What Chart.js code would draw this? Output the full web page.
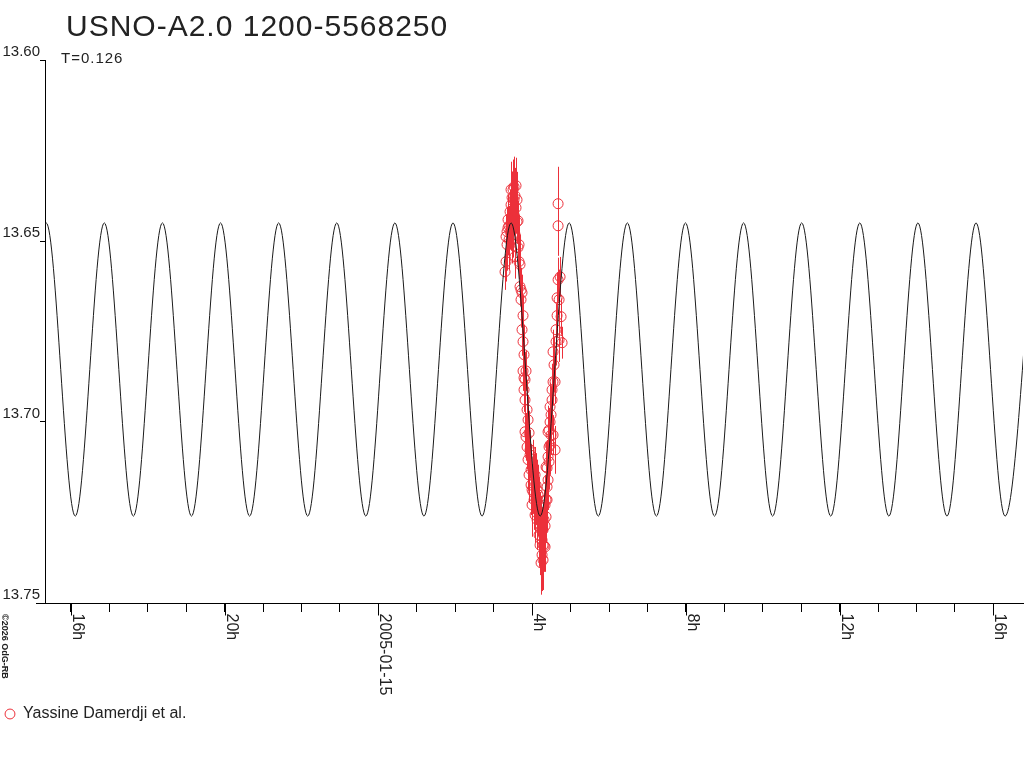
<!DOCTYPE html>
<html>
<head>
<meta charset="utf-8">
<title>USNO-A2.0 1200-5568250</title>
<script src="https://cdn.jsdelivr.net/npm/chart.js@4"></script>
<style>
  html, body { margin: 0; padding: 0; background: #fff; }
  canvas { display: block; }
</style>
</head>
<body>
<canvas id="chart" width="1024" height="768"></canvas>
<script>
// hours relative to 2005-01-15 00:00
const titleText = 'USNO-A2.0 1200-5568250';
const subtitleText = 'T=0.126';
const seriesLabel = 'Yassine Damerdji et al.';
const copyrightText = '\u00a92026 OdG-RB';

// model light curve: extrema (double wave, P = 0.126 d)
const modelTimes = [-9.400, -8.644, -7.888, -7.132, -6.376, -5.620, -4.864, -4.108, -3.352, -2.596,
  -1.840, -1.084, -0.328, 0.428, 1.184, 1.940, 2.696, 3.452, 4.208, 4.964, 5.720, 6.476, 7.232,
  7.988, 8.744, 9.500, 10.256, 11.012, 11.768, 12.524, 13.280, 14.036, 14.792, 15.548, 16.304, 17.060];
const modelMags = [13.726, 13.645, 13.726, 13.645, 13.726, 13.645, 13.726, 13.645, 13.726, 13.645,
  13.726, 13.645, 13.726, 13.645, 13.726, 13.645, 13.726, 13.645, 13.726, 13.645, 13.726, 13.645, 13.726,
  13.645, 13.726, 13.645, 13.726, 13.645, 13.726, 13.645, 13.726, 13.645, 13.726, 13.645, 13.726, 13.645];

// observations
const dataTimes = [3.294, 3.320, 3.320, 3.346, 3.372, 3.398, 3.424, 3.424, 3.450, 3.450,
  3.476, 3.476, 3.502, 3.502, 3.528, 3.528, 3.554, 3.554, 3.580, 3.580,
  3.606, 3.632, 3.632, 3.658, 3.684, 3.710, 3.736, 3.762, 3.762, 3.762,
  3.788, 3.788, 3.814, 3.840, 3.814, 3.840, 3.867, 3.893, 3.919, 3.945,
  3.945, 3.971, 3.997, 4.023, 4.049, 4.075, 4.101, 4.127, 4.153, 4.179,
  4.205, 4.231, 4.257, 4.283, 4.283, 4.309, 4.335, 4.335, 4.361, 4.361,
  4.361, 4.387, 4.387, 4.413, 4.413, 4.439, 4.465, 4.465, 4.491, 4.517,
  4.543, 4.543, 4.595, 4.595, 4.621, 4.648, 4.648, 4.674, 4.674, 4.674,
  4.700, 4.726, 4.752, 4.778, 4.543, 4.439,
  3.346, 3.372, 3.398, 3.450, 3.476, 3.502, 3.528, 3.554, 3.606, 3.658,
  3.684, 3.710, 3.736, 3.788, 3.814, 3.867, 3.893, 3.919, 3.971, 3.997,
  4.023, 4.049, 4.075, 4.101, 4.127, 4.153, 4.179, 4.205, 4.231, 4.257,
  4.283, 4.309, 4.335, 4.387, 4.413, 4.439, 4.465, 4.491, 4.517, 4.569,
  4.621, 4.700];
const dataMags = [13.6585, 13.6557, 13.6488, 13.6474, 13.6441, 13.6458, 13.6419, 13.6474, 13.6400, 13.6358,
  13.6435, 13.6380, 13.6408, 13.6358, 13.6350, 13.6427, 13.6375, 13.6543, 13.6408, 13.6347,
  13.6447, 13.6444, 13.6518, 13.6557, 13.6626, 13.6635, 13.6643, 13.6706, 13.6778, 13.6859,
  13.6911, 13.6878, 13.6939, 13.6859, 13.7027, 13.7041, 13.7069, 13.6994, 13.7030, 13.7091,
  13.7077, 13.7132, 13.7187, 13.7193, 13.7160, 13.7146, 13.7215, 13.7187, 13.7243, 13.7229,
  13.7270, 13.7389, 13.7326, 13.7381, 13.7298, 13.7342, 13.7345, 13.7287, 13.7262, 13.7215,
  13.7124, 13.7179, 13.7127, 13.7096, 13.7027, 13.7069, 13.7000, 13.6958, 13.7036, 13.6911,
  13.6889, 13.6806, 13.6889, 13.7077, 13.6778, 13.6706, 13.6657, 13.6607, 13.6458, 13.6397,
  13.6773, 13.6599, 13.6709, 13.6781, 13.7036, 13.7022,
  13.6510, 13.6463, 13.6496, 13.6455, 13.6496, 13.6463, 13.6386, 13.6482, 13.6386, 13.6510,
  13.6565, 13.6662, 13.6745, 13.6814, 13.6883, 13.6966, 13.7104, 13.7146, 13.7174, 13.7229,
  13.7132, 13.7215, 13.7257, 13.7174, 13.7270, 13.7201, 13.7312, 13.7340, 13.7298, 13.7367,
  13.7340, 13.7270, 13.7229, 13.7215, 13.7160, 13.7110, 13.7063, 13.6980, 13.6939, 13.6842,
  13.6745, 13.6662];
const dataErrs = [0.0050, 0.0055, 0.0061, 0.0066, 0.0069, 0.0055, 0.0061, 0.0050, 0.0069, 0.0077,
  0.0061, 0.0072, 0.0066, 0.0083, 0.0083, 0.0055, 0.0077, 0.0061, 0.0072, 0.0077,
  0.0061, 0.0055, 0.0061, 0.0050, 0.0055, 0.0061, 0.0050, 0.0055, 0.0061, 0.0055,
  0.0061, 0.0069, 0.0055, 0.0055, 0.0061, 0.0066, 0.0061, 0.0069, 0.0061, 0.0066,
  0.0055, 0.0069, 0.0072, 0.0061, 0.0072, 0.0077, 0.0069, 0.0083, 0.0072, 0.0077,
  0.0077, 0.0088, 0.0083, 0.0083, 0.0072, 0.0072, 0.0069, 0.0066, 0.0072, 0.0077,
  0.0069, 0.0066, 0.0077, 0.0066, 0.0072, 0.0061, 0.0069, 0.0066, 0.0055, 0.0072,
  0.0066, 0.0061, 0.0061, 0.0066, 0.0066, 0.0061, 0.0069, 0.0061, 0.0083, 0.0102,
  0.0061, 0.0055, 0.0050, 0.0044, 0.0055, 0.0061,
  0.0072, 0.0077, 0.0083, 0.0072, 0.0066, 0.0083, 0.0088, 0.0072, 0.0077, 0.0083,
  0.0083, 0.0077, 0.0072, 0.0083, 0.0077, 0.0083, 0.0083, 0.0077, 0.0083, 0.0088,
  0.0083, 0.0083, 0.0077, 0.0088, 0.0083, 0.0083, 0.0088, 0.0083, 0.0094, 0.0100,
  0.0088, 0.0083, 0.0083, 0.0088, 0.0083, 0.0077, 0.0083, 0.0077, 0.0083, 0.0077,
  0.0072, 0.0083];

const FONT = "'Liberation Sans', Arial, Helvetica, sans-serif";
const RED = 'rgb(236, 48, 58)';

function hourLabel(v) {
  if (v === 0) return '2005-01-15';
  return ((v + 24) % 24) + 'h';
}

// error bars, rotated time labels, title and the small notes
const decorations = {
  id: 'decorations',
  beforeDatasetsDraw(chart) {
    const {ctx, chartArea, scales: {x, y}} = chart;
    ctx.save();
    ctx.beginPath();
    ctx.rect(chartArea.left, chartArea.top, chartArea.right - chartArea.left, chartArea.bottom - chartArea.top);
    ctx.clip();
    ctx.strokeStyle = RED;
    ctx.lineWidth = 1;
    ctx.beginPath();
    dataTimes.forEach((t, i) => {
      const px = Math.round(x.getPixelForValue(t)) + 0.5;
      ctx.moveTo(px, y.getPixelForValue(dataMags[i] - dataErrs[i]));
      ctx.lineTo(px, y.getPixelForValue(dataMags[i] + dataErrs[i]));
    });
    ctx.stroke();
    ctx.restore();
  },
  afterDraw(chart) {
    const {ctx, chartArea, scales: {x}} = chart;
    const by = Math.round(chartArea.bottom) + 0.5;
    ctx.save();
    ctx.strokeStyle = '#000';
    ctx.fillStyle = '#222';
    ctx.lineWidth = 1;

    // axis line runs a little past the y axis
    ctx.beginPath();
    ctx.moveTo(36, by);
    ctx.lineTo(chartArea.left, by);
    ctx.stroke();

    // longer ticks + labels every 4 hours
    ctx.font = '16px ' + FONT;
    ctx.textAlign = 'left';
    ctx.textBaseline = 'alphabetic';
    x.ticks.forEach(tk => {
      if (Math.round(tk.value) % 4 !== 0) return;
      const px = Math.round(x.getPixelForValue(tk.value)) + 0.5;
      ctx.beginPath();
      ctx.moveTo(px, by);
      ctx.lineTo(px, by + 12);
      ctx.stroke();
      ctx.save();
      ctx.translate(px + 1, by + 10);
      ctx.rotate(Math.PI / 2);
      ctx.fillText(hourLabel(Math.round(tk.value)), 0, 0);
      ctx.restore();
    });

    // title and period
    ctx.letterSpacing = '1px';
    ctx.font = '30px ' + FONT;
    ctx.fillText(titleText, 66, 36);
    ctx.font = '15px ' + FONT;
    ctx.fillText(subtitleText, 61, 63);
    ctx.letterSpacing = '0px';

    // copyright, written downwards
    ctx.font = 'bold 9px ' + FONT;
    ctx.save();
    ctx.translate(2, 614);
    ctx.rotate(Math.PI / 2);
    ctx.fillText(copyrightText, 0, 0);
    ctx.restore();

    ctx.restore();
  }
};

Chart.defaults.font.family = FONT;
Chart.defaults.color = '#222';

new Chart(document.getElementById('chart'), {
  data: {
    datasets: [
      {
        type: 'line',
        label: 'model',
        data: modelTimes.map((t, i) => ({x: t, y: modelMags[i]})),
        borderColor: '#1a1a1a',
        borderWidth: 1,
        pointRadius: 0,
        fill: false,
        cubicInterpolationMode: 'monotone'
      },
      {
        type: 'scatter',
        label: seriesLabel,
        data: dataTimes.map((t, i) => ({x: t, y: dataMags[i]})),
        borderColor: RED,
        backgroundColor: 'rgba(0,0,0,0)',
        borderWidth: 1,
        pointStyle: 'circle',
        pointRadius: 5,
        pointHoverRadius: 5
      }
    ]
  },
  options: {
    responsive: false,
    devicePixelRatio: 1,
    animation: false,
    events: [],
    layout: {autoPadding: false, padding: {top: 60, right: 1, bottom: 36, left: 0}},
    scales: {
      x: {
        type: 'linear',
        min: -8.675,
        max: 16.77,
        afterFit: s => { s.height = 98; s.paddingLeft = 0; s.paddingRight = 0; },
        ticks: {display: false, stepSize: 1, includeBounds: false, autoSkip: false},
        grid: {drawOnChartArea: false, tickLength: 9, color: '#000'},
        border: {color: '#000'}
      },
      y: {
        type: 'linear',
        reverse: true,
        min: 13.60,
        max: 13.75,
        afterFit: s => { s.width = 45; },
        ticks: {
          stepSize: 0.05,
          padding: 0,
          labelOffset: -8,
          font: {size: 15},
          callback: v => v.toFixed(2)
        },
        grid: {drawOnChartArea: false, tickLength: 5, color: '#000'},
        border: {color: '#000'}
      }
    },
    plugins: {
      title: {display: false},
      tooltip: {enabled: false},
      legend: {
        position: 'bottom',
        align: 'start',
        labels: {
          usePointStyle: true,
          boxWidth: 10,
          boxHeight: 7,
          padding: 5,
          font: {size: 16},
          filter: item => item.datasetIndex === 1
        }
      }
    }
  },
  plugins: [decorations]
});
</script>
</body>
</html>
